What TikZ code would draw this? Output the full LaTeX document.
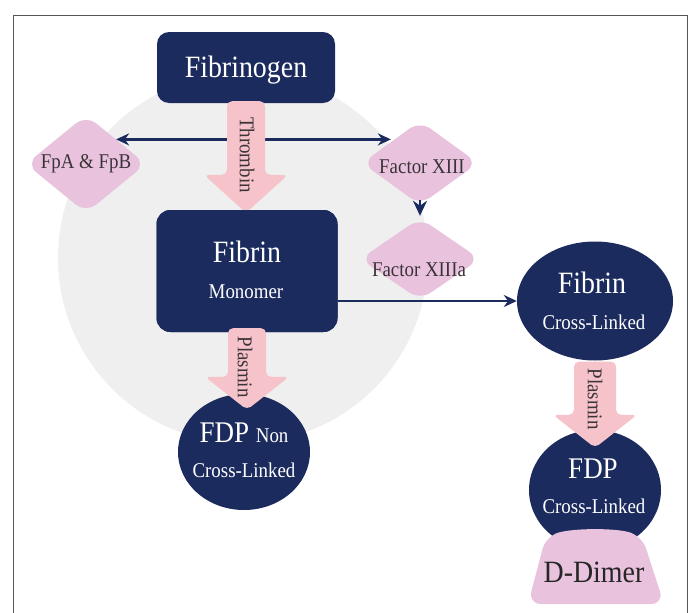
\documentclass[tikz,border=0pt]{standalone}
\usepackage{fontspec}
\setmainfont{Liberation Serif}[FakeStretch=0.9]
\usetikzlibrary{arrows.meta,shapes.geometric,calc}
\definecolor{navy}{HTML}{1C2B5E}
\definecolor{arrowpink}{HTML}{F5C3C9}
\definecolor{lilac}{HTML}{E9C3DD}
\definecolor{bggray}{HTML}{EFEFEF}
\definecolor{darktext}{HTML}{3A3338}
\definecolor{framegray}{HTML}{555555}
\begin{document}
\begin{tikzpicture}[x=1pt,y=-1pt,
  >={Stealth[length=13pt,width=12pt]},
  navybox/.style={rectangle, fill=navy, rounded corners=12pt, inner sep=0pt},
  navyoval/.style={ellipse, fill=navy, inner sep=0pt},
  diam/.style={diamond, fill=lilac, rounded corners=13pt, inner sep=0pt},
  bigw/.style={text=white, font=\fontsize{31}{34}\selectfont, inner sep=0pt, anchor=base},
  smallw/.style={text=white, font=\fontsize{21}{24}\selectfont, inner sep=0pt, anchor=base},
  dtext/.style={text=darktext, font=\fontsize{21}{24}\selectfont, inner sep=0pt, anchor=base},
  atext/.style={text=darktext, font=\fontsize{21}{24}\selectfont, rotate=-90, inner sep=0pt},
  blockarrow/.style={fill=arrowpink, rounded corners=5pt},
  link/.style={draw=navy, line width=2.2pt},
]
\useasboundingbox (0,0) rectangle (689,613);
\fill[white] (0,0) rectangle (689,613);
% frame
\draw[framegray, line width=1pt] (13,640) -- (13,15) -- (687,15) -- (687,640);
% background circle
\fill[bggray] (243,258) circle[radius=185pt];

% nodes
\node[diam, minimum width=120pt, minimum height=98pt] (fpa) at (86,164) {};
\node[diam, minimum width=116pt, minimum height=84pt] (f13) at (420,163) {};
\node[diam, minimum width=120pt, minimum height=82pt] (f13a) at (420,259) {};

% double arrow FpA <-> Factor XIII
\draw[link, <->] (fpa.north east) -- (fpa.north east -| f13.north west);
% Factor XIII -> Factor XIIIa
\draw[link, -{Stealth[length=15pt,width=14pt]}, shorten <=-5pt, shorten >=2pt] (f13.south) -- (f13a.north);

\node[navybox, minimum width=178pt, minimum height=71pt] (fibrinogen) at (246,67.5) {};
\node[navybox, minimum width=181pt, minimum height=122pt, rounded corners=14pt] (fibrin) at (247,271) {};

% Thrombin arrow (drawn under the Fibrin box)
\fill[blockarrow] let \p1=(fibrinogen.south), \p2=(fibrin.north) in
  (\x1-19pt,\y1+2pt) -- (\x1+19pt,\y1+2pt) -- (\x1+19pt,\y2+35pt) -- (\x1+42pt,\y2+35pt)
  -- (\x1,\y2-3pt) -- (\x1-42pt,\y2+35pt) -- (\x1-19pt,\y2+35pt) -- cycle;
\node[navybox, minimum width=181pt, minimum height=122pt, rounded corners=14pt] at (fibrin) {};
\node[atext] (thrombin) at (247,155) {Thrombin};

\node[navyoval, minimum width=156pt, minimum height=119pt] (fibcross) at (595,301) {};
\node[navyoval, minimum width=132pt, minimum height=116pt] (fdpnon) at (244,452) {};
\node[navyoval, minimum width=132pt, minimum height=120pt] (fdpcross) at (595,490) {};

% Fibrin -> Fibrin Cross-Linked
\draw[link, ->] (fibrin.east |- fibcross.west) -- (fibcross.west);

% Plasmin arrows
\fill[blockarrow] let \p1=(fibrin.south), \p2=(fdpnon.north) in
  (\x1-19pt,\y1+4pt) -- (\x1+19pt,\y1+4pt) -- (\x1+19pt,\y2+17pt) -- (\x1+42pt,\y2+17pt)
  -- (\x1,\y2-16pt) -- (\x1-42pt,\y2+17pt) -- (\x1-19pt,\y2+17pt) -- cycle;
\fill[blockarrow] let \p1=(fibcross.south), \p2=(fdpcross.north) in
  (\x1-21pt,\y1-1pt) -- (\x1+21pt,\y1-1pt) -- (\x1+21pt,\y2+15pt) -- (\x1+42pt,\y2+15pt)
  -- (\x1,\y2-18pt) -- (\x1-42pt,\y2+15pt) -- (\x1-21pt,\y2+15pt) -- cycle;
\node[atext] (plasmin1) at (245,367) {Plasmin};
\node[atext] (plasmin2) at (595,399) {Plasmin};

% D-Dimer
\fill[lilac, rounded corners=13pt] (546,536) .. controls (575,528) and (615,528) .. (642,536)
  -- (664,604) -- (528,604) -- cycle;
\node[inner sep=0pt] (ddimer) at (595,570) {};

% texts
\node[bigw] (tfibrinogen) at (246,77) {Fibrinogen};
\node[bigw] (tfibrin) at (247,262) {Fibrin};
\node[smallw] (tmonomer) at (246,298) {Monomer};
\node[dtext] (tfpa) at (86,168) {FpA \& FpB};
\node[dtext] (tf13) at (422,173) {Factor XIII};
\node[dtext] (tf13a) at (419,276) {Factor XIIIa};
\node[bigw] (tfibc) at (592,293) {Fibrin};
\node[smallw] (tcl1) at (594,329) {Cross-Linked};
\node[bigw, font=\fontsize{30}{34}\selectfont] (tfdpnon) at (244,442) {FDP {\fontsize{21}{24}\selectfont Non}};
\node[smallw] (tcl2) at (244,477) {Cross-Linked};
\node[bigw, font=\fontsize{30}{34}\selectfont] (tfdp) at (593,478) {FDP};
\node[smallw] (tcl3) at (594,513) {Cross-Linked};
\node[bigw, text=black!85] (tdd) at (594,582) {D-Dimer};
\end{tikzpicture}
\end{document}
